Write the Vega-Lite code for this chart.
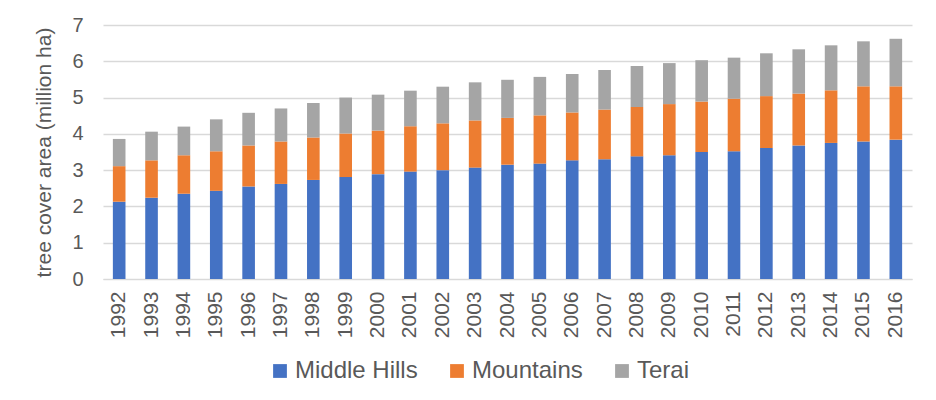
{
  "$schema": "https://vega.github.io/schema/vega-lite/v6.json",
  "width": 809,
  "height": 254,
  "autosize": {"type": "none"},
  "padding": {"left": 103, "top": 25, "right": 24, "bottom": 121},
  "background": "white",
  "config": {
    "font": "Liberation Sans",
    "view": {"stroke": null}
  },
  "data": {
    "values": [
      {"year": "1992", "region": "Middle Hills", "area": 2.13}, {"year": "1992", "region": "Mountains", "area": 0.98}, {"year": "1992", "region": "Terai", "area": 0.75},
      {"year": "1993", "region": "Middle Hills", "area": 2.24}, {"year": "1993", "region": "Mountains", "area": 1.03}, {"year": "1993", "region": "Terai", "area": 0.79},
      {"year": "1994", "region": "Middle Hills", "area": 2.35}, {"year": "1994", "region": "Mountains", "area": 1.06}, {"year": "1994", "region": "Terai", "area": 0.79},
      {"year": "1995", "region": "Middle Hills", "area": 2.43}, {"year": "1995", "region": "Mountains", "area": 1.09}, {"year": "1995", "region": "Terai", "area": 0.88},
      {"year": "1996", "region": "Middle Hills", "area": 2.55}, {"year": "1996", "region": "Mountains", "area": 1.13}, {"year": "1996", "region": "Terai", "area": 0.90},
      {"year": "1997", "region": "Middle Hills", "area": 2.62}, {"year": "1997", "region": "Mountains", "area": 1.17}, {"year": "1997", "region": "Terai", "area": 0.91},
      {"year": "1998", "region": "Middle Hills", "area": 2.73}, {"year": "1998", "region": "Mountains", "area": 1.17}, {"year": "1998", "region": "Terai", "area": 0.95},
      {"year": "1999", "region": "Middle Hills", "area": 2.81}, {"year": "1999", "region": "Mountains", "area": 1.20}, {"year": "1999", "region": "Terai", "area": 0.99},
      {"year": "2000", "region": "Middle Hills", "area": 2.89}, {"year": "2000", "region": "Mountains", "area": 1.20}, {"year": "2000", "region": "Terai", "area": 0.99},
      {"year": "2001", "region": "Middle Hills", "area": 2.96}, {"year": "2001", "region": "Mountains", "area": 1.25}, {"year": "2001", "region": "Terai", "area": 0.98},
      {"year": "2002", "region": "Middle Hills", "area": 3.00}, {"year": "2002", "region": "Mountains", "area": 1.29}, {"year": "2002", "region": "Terai", "area": 1.01},
      {"year": "2003", "region": "Middle Hills", "area": 3.07}, {"year": "2003", "region": "Mountains", "area": 1.30}, {"year": "2003", "region": "Terai", "area": 1.05},
      {"year": "2004", "region": "Middle Hills", "area": 3.15}, {"year": "2004", "region": "Mountains", "area": 1.29}, {"year": "2004", "region": "Terai", "area": 1.05},
      {"year": "2005", "region": "Middle Hills", "area": 3.18}, {"year": "2005", "region": "Mountains", "area": 1.33}, {"year": "2005", "region": "Terai", "area": 1.06},
      {"year": "2006", "region": "Middle Hills", "area": 3.27}, {"year": "2006", "region": "Mountains", "area": 1.32}, {"year": "2006", "region": "Terai", "area": 1.06},
      {"year": "2007", "region": "Middle Hills", "area": 3.30}, {"year": "2007", "region": "Mountains", "area": 1.37}, {"year": "2007", "region": "Terai", "area": 1.09},
      {"year": "2008", "region": "Middle Hills", "area": 3.38}, {"year": "2008", "region": "Mountains", "area": 1.36}, {"year": "2008", "region": "Terai", "area": 1.13},
      {"year": "2009", "region": "Middle Hills", "area": 3.41}, {"year": "2009", "region": "Mountains", "area": 1.41}, {"year": "2009", "region": "Terai", "area": 1.13},
      {"year": "2010", "region": "Middle Hills", "area": 3.50}, {"year": "2010", "region": "Mountains", "area": 1.39}, {"year": "2010", "region": "Terai", "area": 1.14},
      {"year": "2011", "region": "Middle Hills", "area": 3.52}, {"year": "2011", "region": "Mountains", "area": 1.45}, {"year": "2011", "region": "Terai", "area": 1.13},
      {"year": "2012", "region": "Middle Hills", "area": 3.61}, {"year": "2012", "region": "Mountains", "area": 1.43}, {"year": "2012", "region": "Terai", "area": 1.18},
      {"year": "2013", "region": "Middle Hills", "area": 3.68}, {"year": "2013", "region": "Mountains", "area": 1.43}, {"year": "2013", "region": "Terai", "area": 1.22},
      {"year": "2014", "region": "Middle Hills", "area": 3.75}, {"year": "2014", "region": "Mountains", "area": 1.45}, {"year": "2014", "region": "Terai", "area": 1.24},
      {"year": "2015", "region": "Middle Hills", "area": 3.79}, {"year": "2015", "region": "Mountains", "area": 1.52}, {"year": "2015", "region": "Terai", "area": 1.24},
      {"year": "2016", "region": "Middle Hills", "area": 3.84}, {"year": "2016", "region": "Mountains", "area": 1.47}, {"year": "2016", "region": "Terai", "area": 1.31}
    ]
  },
  "mark": {"type": "bar"},
  "encoding": {
    "x": {
      "field": "year",
      "type": "nominal",
      "scale": {"paddingInner": 0.61, "paddingOuter": 0.305},
      "axis": {
        "title": null,
        "labelAngle": -90,
        "labelFontSize": 21,
        "labelColor": "#595959",
        "labelPadding": 12,
        "ticks": false,
        "tickSize": 0,
        "domainColor": "#D9D9D9",
        "domainWidth": 1
      }
    },
    "y": {
      "field": "area",
      "type": "quantitative",
      "aggregate": "sum",
      "stack": "zero",
      "scale": {"domain": [0, 7], "nice": false},
      "axis": {
        "title": "tree cover area (million ha)",
        "titleFontSize": 21,
        "titleFontWeight": "normal",
        "titleColor": "#595959",
        "titlePadding": 17,
        "values": [0, 1, 2, 3, 4, 5, 6, 7],
        "labelFontSize": 20,
        "labelColor": "#595959",
        "labelPadding": 20,
        "ticks": false,
        "tickSize": 0,
        "domain": false,
        "gridColor": "#D9D9D9",
        "gridWidth": 1.3
      }
    },
    "color": {
      "field": "region",
      "type": "nominal",
      "scale": {
        "domain": ["Middle Hills", "Mountains", "Terai"],
        "range": ["#4472C4", "#ED7D31", "#A5A5A5"]
      },
      "legend": {
        "title": null,
        "orient": "none",
        "direction": "horizontal",
        "legendX": 165,
        "legendY": 334,
        "padding": 0,
        "symbolType": "square",
        "symbolSize": 190,
        "symbolStrokeWidth": 0,
        "labelFontSize": 24,
        "labelColor": "#595959",
        "labelOffset": 3,
        "columnPadding": 27
      }
    },
    "order": {"field": "region", "type": "nominal"}
  }
}
